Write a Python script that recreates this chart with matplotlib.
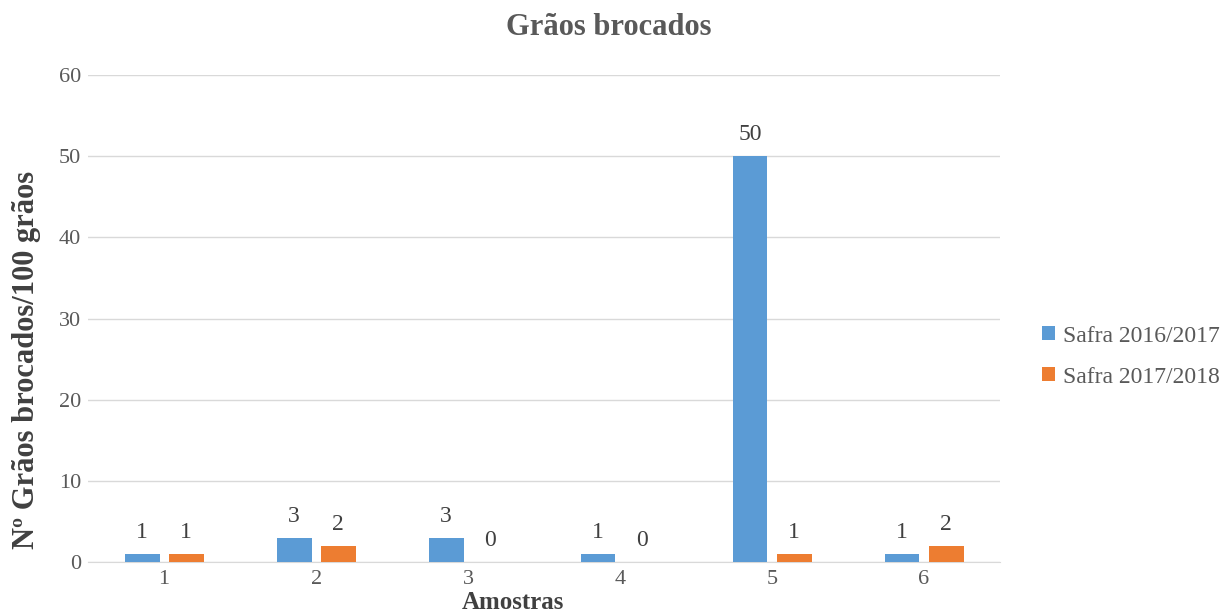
import matplotlib.pyplot as plt
import numpy as np

plt.rcParams['font.family'] = ['Liberation Serif', 'DejaVu Serif']

amostras = ['1', '2', '3', '4', '5', '6']
safra_2016 = [1, 3, 3, 1, 50, 1]
safra_2018 = [1, 2, 0, 0, 1, 2]

cor_azul = '#5B9BD5'
cor_laranja = '#ED7D31'
cinza = '#595959'
escuro = '#404040'

fig = plt.figure(figsize=(12.24, 6.15), dpi=100)
ax = fig.add_axes([0.072, 0.086, 0.745, 0.792])

x = np.arange(len(amostras))
w = 0.23
b1 = ax.bar(x - 0.145, safra_2016, w, color=cor_azul, label='Safra 2016/2017', zorder=3)
b2 = ax.bar(x + 0.145, safra_2018, w, color=cor_laranja, label='Safra 2017/2018', zorder=3)

for bars in (b1, b2):
    ax.bar_label(bars, padding=8, fontsize=17, color=escuro)

ax.set_xlim(-0.5, len(amostras) - 0.5)
ax.set_ylim(0, 60)
ax.set_yticks(range(0, 61, 10))
ax.set_xticks(x)
ax.set_xticklabels(amostras)
ax.yaxis.grid(True, color='#D9D9D9', linewidth=1)
ax.set_axisbelow(True)
for s in ['top', 'right', 'left']:
    ax.spines[s].set_visible(False)
ax.spines['bottom'].set_color('#D9D9D9')
ax.tick_params(axis='both', length=0, labelsize=16, colors=cinza)
ax.tick_params(axis='x', pad=6)
ax.tick_params(axis='y', pad=5)

# titulo e rotulos dos eixos
fig.text(0.497, 0.955, 'Grãos brocados', ha='center', va='center',
         fontsize=22, fontweight='bold', color=cinza)
fig.text(0.022, 0.415, 'Nº Grãos brocados/100 grãos', rotation=90, ha='center', va='center',
         fontsize=22, fontweight='bold', color=escuro)
fig.text(0.419, 0.001, 'Amostras', ha='center', va='bottom',
         fontsize=18, fontweight='bold', color=escuro)

fig.legend(handles=[b1, b2], loc='center left', bbox_to_anchor=(0.851, 0.42),
           frameon=False, borderpad=0, borderaxespad=0,
           fontsize=17, labelcolor=cinza, handlelength=0.55, handleheight=0.55,
           handletextpad=0.35, labelspacing=0.85)

fig.savefig('out.png', dpi=100)
